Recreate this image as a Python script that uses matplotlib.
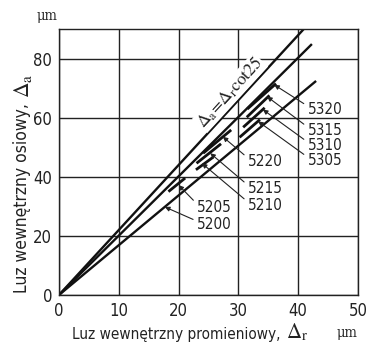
import numpy as np
import matplotlib.pyplot as plt

plt.rcParams['font.family'] = ['DejaVu Sans']
plt.rcParams['font.stretch'] = 'condensed'
plt.rcParams['mathtext.fontset'] = 'stix'

# long reference lines from origin: end points
line_x_end = [40.9, 42.3, 43.0]
line_y_end = [90.0, 85.0, 72.5]

# short segments for bearing series
labels = ['5320', '5315', '5310', '5305', '5220', '5215', '5210', '5205', '5200']
seg_x0 = [31.5, 31.4, 30.8, 30.2, 24.1, 23.0, 22.9, 18.3, None]
seg_y0 = [63.0, 60.2, 56.8, 53.4, 48.0, 44.6, 42.4, 35.0, None]
seg_x1 = [36.3, 35.2, 34.4, 33.6, 28.8, 27.1, 25.8, 21.1, None]
seg_y1 = [71.6, 67.6, 63.4, 59.4, 55.9, 51.2, 46.7, 39.6, None]
# arrow tips and label positions
tip_x = [36.0, 34.8, 34.1, 33.3, 27.4, 25.3, 23.9, 20.0, 17.7]
tip_y = [71.2, 67.2, 62.8, 58.8, 53.6, 48.0, 44.6, 37.2, 29.8]
lab_x = [41.6, 41.6, 41.6, 41.6, 31.6, 31.6, 31.6, 23.1, 23.1]
lab_y = [62.7, 55.6, 50.5, 45.4, 45.1, 35.9, 30.2, 29.5, 23.7]

fig = plt.figure(figsize=(3.69, 3.49), dpi=100)
ax = fig.add_axes([0.16, 0.155, 0.81, 0.761])
ax.set_xlim(0, 50)
ax.set_ylim(0, 90)
ax.set_xticks([0, 10, 20, 30, 40, 50])
ax.set_yticks([0, 20, 40, 60, 80])
ax.tick_params(length=0, labelsize=12, pad=5, colors='#222222')
ax.grid(True, color='#222222', lw=1.0)
ax.set_axisbelow(True)
for s in ax.spines.values():
    s.set_color('#222222')
    s.set_linewidth(1.0)

for xe, ye in zip(line_x_end, line_y_end):
    ax.plot([0, xe], [0, ye], color='#111111', lw=1.7, solid_capstyle='butt')

for i in range(len(labels)):
    if seg_x0[i] is not None:
        ax.plot([seg_x0[i], seg_x1[i]], [seg_y0[i], seg_y1[i]], color='#111111', lw=2.0,
                solid_capstyle='butt')
    ax.annotate(labels[i], xy=(tip_x[i], tip_y[i]), xytext=(lab_x[i], lab_y[i]),
                ha='left', va='center', fontsize=11, color='#222222',
                arrowprops=dict(arrowstyle='-|>', color='#222222', lw=0.8,
                                mutation_scale=7, relpos=(0, 0.75), shrinkA=1, shrinkB=0))

ax.text(28.6, 68.5, r'$\Delta_{\mathrm{a}}\!=\!\Delta_{\mathrm{r}}\mathrm{cot}25$', rotation=47.5,
        ha='center', va='center', fontsize=12.5, color='#222222',
        bbox=dict(facecolor='white', edgecolor='none', pad=0.5))

# x axis label: sans text then larger serif italic delta
t = fig.text(0.195, 0.03, 'Luz wewnętrzny promieniowy,', ha='left', va='baseline',
             fontsize=11, color='#222222')
fig.canvas.draw()
bb = t.get_window_extent().transformed(fig.transFigure.inverted())
fig.text(bb.x1 + 0.015, 0.03, r'$\mathit{\Delta}_{\mathrm{r}}$', ha='left', va='baseline',
         fontsize=15, color='#222222')
fig.text(0.94, 0.035, 'μm', ha='center', va='baseline', fontsize=10.5, color='#222222',
         family=['DejaVu Serif'])

# y axis label
t = fig.text(0.035, 0.16, 'Luz wewnętrzny osiowy,', rotation=90, ha='left', va='bottom',
             fontsize=12.5, color='#222222')
fig.canvas.draw()
bb = t.get_window_extent().transformed(fig.transFigure.inverted())
fig.text(0.032, bb.y1 + 0.015, r'$\mathit{\Delta}_{\mathrm{a}}$', rotation=90,
         ha='left', va='bottom', fontsize=15.5, color='#222222')

fig.text(0.127, 0.955, 'μm', ha='center', va='center', fontsize=10.5, color='#222222',
         family=['DejaVu Serif'])

fig.savefig('out.png', dpi=100)
